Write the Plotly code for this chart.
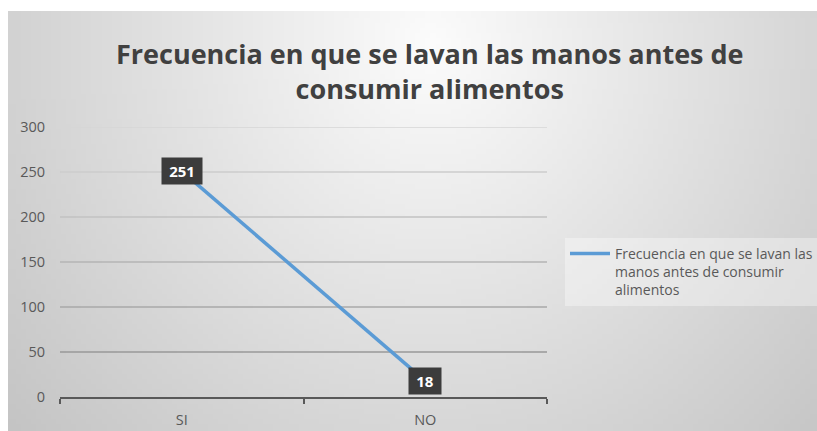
import base64, struct, zlib
import plotly.graph_objects as go

# ---- data ----
categories = ["SI", "NO"]
values = [251, 18]
legend_label = "Frecuencia en que se lavan las<br>manos antes de consumir<br>alimentos"
title_text = "Frecuencia en que se lavan las manos antes de<br>consumir alimentos"
y_ticks = [0, 50, 100, 150, 200, 250, 300]

# ---- background gradient image (style only) ----
def gradient_png(w, h):
    rows = []
    cx, cy = 0.52 * w, 0.07 * h
    for j in range(h):
        row = bytearray([0])
        for i in range(w):
            dx = (i - cx) / (w / 2)
            dy = (j - cy) / h
            d = (dx * dx + dy * dy) ** 0.5
            v = int(max(192, min(252, 252 - 40 * d)))
            row.append(v)
        rows.append(bytes(row))
    raw = b"".join(rows)
    def chunk(t, data):
        c = struct.pack(">I", len(data)) + t + data
        return c + struct.pack(">I", zlib.crc32(t + data) & 0xffffffff)
    png = b"\x89PNG\r\n\x1a\n"
    png += chunk(b"IHDR", struct.pack(">IIBBBBB", w, h, 8, 0, 0, 0, 0))
    png += chunk(b"IDAT", zlib.compress(raw, 9))
    png += chunk(b"IEND", b"")
    return "data:image/png;base64," + base64.b64encode(png).decode()

W, H = 817, 431
L, R, T, B = 60, 547, 127, 397
pw, ph = R - L, B - T

def px_x(p):
    return (p - L) / pw

def px_y(p):
    return (B - p) / ph

FONT = "Open Sans"

fig = go.Figure()
fig.add_trace(go.Scatter(
    x=categories, y=values, mode="lines", name=legend_label,
    line=dict(color="#5B9BD5", width=3.5),
    hoverinfo="x+y",
))

# data labels
for c, v in zip(categories, values):
    fig.add_annotation(
        x=c, y=v, xref="x", yref="y", text="<b>%d</b>" % v, showarrow=False,
        bgcolor="#3c3c3c", font=dict(color="white", size=15, family=FONT),
        borderpad=3, width=8 * len(str(v)) + 10, height=20, align="center",
        xanchor="center", yanchor="middle",
    )

# title
fig.add_annotation(
    x=px_x(430), y=px_y(71), xref="paper", yref="paper", text="<b>" + title_text + "</b>",
    showarrow=False, xanchor="center", yanchor="middle",
    font=dict(family=FONT, size=27, color="#404040"),
)

# gridlines with graded tone
grid_colors = {300: "#d6d6d6", 250: "#cccccc", 200: "#c2c2c2", 150: "#b5b5b5", 100: "#a8a8a8", 50: "#999999"}
for v in y_ticks:
    if v == 0:
        continue
    fig.add_shape(type="line", xref="paper", yref="y", x0=0, x1=1, y0=v, y1=v,
                  line=dict(color=grid_colors[v], width=1.3), layer="below")

fig.add_layout_image(dict(
    source=gradient_png(160, 84), xref="paper", yref="paper",
    x=px_x(8), y=px_y(11), sizex=(W - 8) / pw, sizey=(H - 11) / ph,
    xanchor="left", yanchor="top", sizing="stretch", layer="below",
))

fig.update_layout(
    width=W, height=H, autosize=False,
    margin=dict(l=L, r=W - R, t=T, b=H - B, pad=0, autoexpand=False),
    paper_bgcolor="white", plot_bgcolor="rgba(0,0,0,0)",
    font=dict(family=FONT, size=14, color="#595959"),
    showlegend=True,
    legend=dict(
        x=px_x(565), y=px_y(238), xanchor="left", yanchor="top",
        bgcolor="rgba(255,255,255,0.35)", font=dict(size=14, color="#595959", family=FONT),
        valign="top", itemwidth=40, tracegroupgap=0,
    ),
    xaxis=dict(
        type="category", range=[-0.5, 1.5], showgrid=False, automargin=False,
        showline=True, linecolor="#595959", linewidth=2,
        ticks="outside", tickson="boundaries", ticklen=5, tickwidth=2, tickcolor="#595959",
        ticklabelstandoff=9,
        tickfont=dict(size=14.5, color="#595959"), fixedrange=True,
    ),
    yaxis=dict(
        range=[0, 300], tickvals=y_ticks, showgrid=False, zeroline=False, automargin=False,
        showline=False, ticks="", ticklabelstandoff=14,
        tickfont=dict(size=14.5, color="#595959"), fixedrange=True,
    ),
)

fig.write_html(
    "out.html",
    config={"displayModeBar": False},
    post_script="document.body.style.margin='0';document.body.style.overflow='hidden';",
)
